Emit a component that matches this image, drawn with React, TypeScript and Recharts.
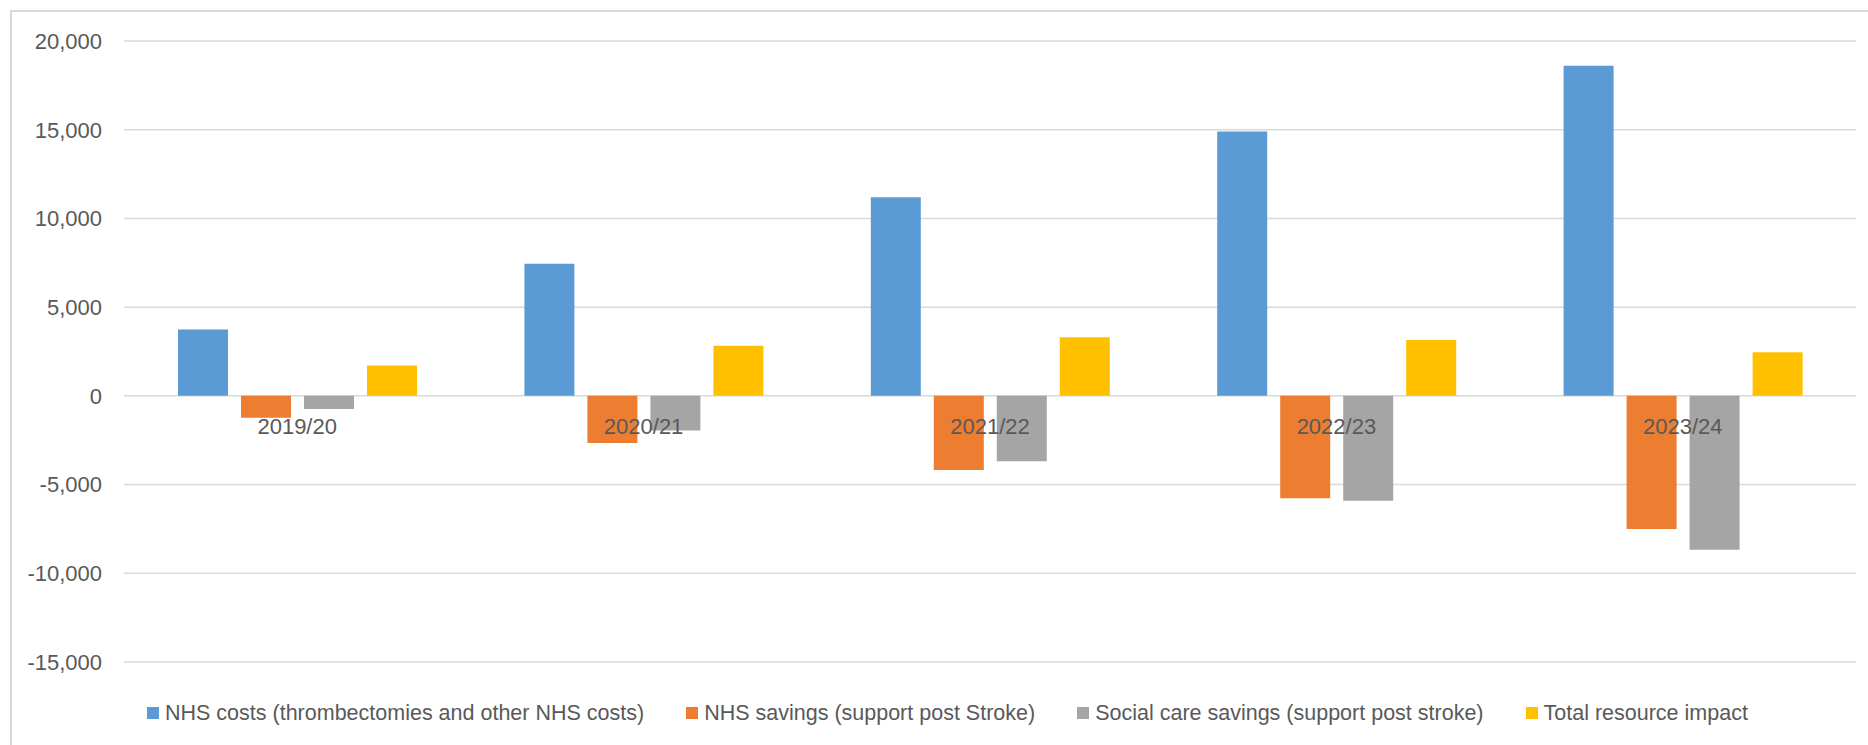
import { Bar, BarChart, CartesianGrid, Legend, XAxis, YAxis } from "recharts"

const years = ["2019/20", "2020/21", "2021/22", "2022/23", "2023/24"]
const nhsCosts = [3740, 7445, 11200, 14900, 18610]
const nhsSavings = [-1240, -2650, -4175, -5775, -7500]
const socialCareSavings = [-735, -1950, -3690, -5905, -8670]
const totalImpact = [1710, 2820, 3310, 3155, 2460]
const yTicks = [-15000, -10000, -5000, 0, 5000, 10000, 15000, 20000]

const series = [
    { key: "nhsCosts", name: "NHS costs (thrombectomies and other NHS costs)", color: "#5B9BD5" },
    { key: "nhsSavings", name: "NHS savings (support post Stroke)", color: "#ED7D31" },
    { key: "socialCare", name: "Social care savings (support post stroke)", color: "#A5A5A5" },
    { key: "total", name: "Total resource impact", color: "#FFC000" },
]

const data = years.map((year, i) => ({
    year,
    nhsCosts: nhsCosts[i],
    nhsSavings: nhsSavings[i],
    socialCare: socialCareSavings[i],
    total: totalImpact[i],
}))

const W = 1868
const H = 745
const TOP = 41
const BOTTOM = 83
const Y_MIN = -15000
const Y_MAX = 20000
// category labels sit just under the zero line, like Excel's "next to axis"
const zeroY = TOP + ((H - TOP - BOTTOM) * Y_MAX) / (Y_MAX - Y_MIN)

const FONT = '"Liberation Sans", Arial, sans-serif'
const TEXT = "#595959"

function CategoryTick(props: any) {
    const { x, payload } = props
    return (
        <text x={x} y={zeroY + 30} dy="0.355em" textAnchor="middle" fill={TEXT} fontSize={22} fontFamily={FONT}>
            {payload.value}
        </text>
    )
}

function LegendRow() {
    return (
        <div style={{ display: "flex", alignItems: "center", height: 26, paddingLeft: 147, fontFamily: FONT, fontSize: 21.5, color: TEXT, whiteSpace: "nowrap" }}>
            {series.map((s) => (
                <div key={s.key} style={{ display: "flex", alignItems: "center", marginRight: 42 }}>
                    <span style={{ display: "inline-block", width: 12, height: 12, background: s.color, marginRight: 6 }} />
                    <span>{s.name}</span>
                </div>
            ))}
        </div>
    )
}

export default function App() {
    return (
        <div style={{ position: "fixed", left: 0, top: 0, width: W, height: H, background: "#fff", overflow: "hidden" }}>
            <div style={{ position: "absolute", left: 10, top: 10, width: W, height: H, borderLeft: "2px solid #d9d9d9", borderTop: "2px solid #d9d9d9" }} />
            <BarChart
                width={W}
                height={H}
                data={data}
                margin={{ top: TOP, right: 12, left: 0, bottom: BOTTOM - 30 }}
                barSize={50}
                barGap={13}
                style={{ fontFamily: FONT }}
            >
                <CartesianGrid vertical={false} stroke="#d9d9d9" strokeWidth={1.5} />
                <XAxis dataKey="year" axisLine={false} tickLine={false} height={30} tick={<CategoryTick />} interval={0} />
                <YAxis
                    width={124}
                    domain={[Y_MIN, Y_MAX]}
                    ticks={yTicks}
                    axisLine={false}
                    tickLine={false}
                    tickSize={0}
                    tickMargin={22}
                    tick={{ fill: TEXT, fontSize: 22 }}
                    tickFormatter={(v) => v.toLocaleString("en-US")}
                />
                <Legend
                    layout="horizontal"
                    verticalAlign="middle"
                    align="center"
                    wrapperStyle={{ left: 0, top: 700, width: W }}
                    content={() => <LegendRow />}
                />
                {series.map((s) => (
                    <Bar key={s.key} dataKey={s.key} name={s.name} fill={s.color} isAnimationActive={false} />
                ))}
            </BarChart>
        </div>
    )
}
